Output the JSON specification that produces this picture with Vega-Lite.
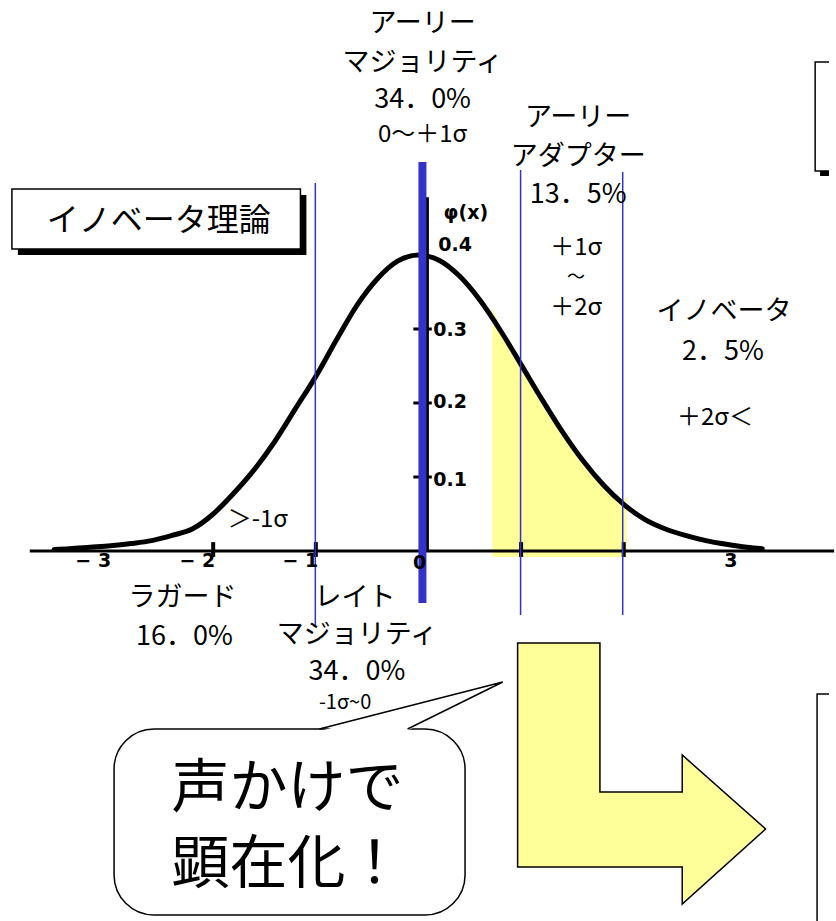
{
  "$schema": "https://vega.github.io/schema/vega-lite/v6.json",
  "width": 836,
  "height": 921,
  "autosize": {"type": "fit", "contains": "padding"},
  "padding": 0,
  "background": "white",
  "config": {"view": {"stroke": null}},
  "datasets": {
    "curve": [
      {"x": -3.55, "y": 0.002}, {"x": -3.4, "y": 0.003}, {"x": -3.2, "y": 0.005}, {"x": -3.0, "y": 0.007},
      {"x": -2.8, "y": 0.010}, {"x": -2.6, "y": 0.014}, {"x": -2.4, "y": 0.021}, {"x": -2.2, "y": 0.030},
      {"x": -2.0, "y": 0.050}, {"x": -1.8, "y": 0.078}, {"x": -1.6, "y": 0.110}, {"x": -1.4, "y": 0.148},
      {"x": -1.2, "y": 0.192}, {"x": -1.0, "y": 0.236}, {"x": -0.8, "y": 0.285}, {"x": -0.6, "y": 0.332},
      {"x": -0.4, "y": 0.368}, {"x": -0.2, "y": 0.392}, {"x": 0.0, "y": 0.400}, {"x": 0.2, "y": 0.393},
      {"x": 0.4, "y": 0.3715}, {"x": 0.6, "y": 0.3387}, {"x": 0.8, "y": 0.2976}, {"x": 1.0, "y": 0.2519},
      {"x": 1.2, "y": 0.2056}, {"x": 1.4, "y": 0.1616}, {"x": 1.6, "y": 0.1225}, {"x": 1.8, "y": 0.0895},
      {"x": 2.0, "y": 0.063}, {"x": 2.2, "y": 0.043}, {"x": 2.4, "y": 0.030}, {"x": 2.6, "y": 0.021},
      {"x": 2.8, "y": 0.014}, {"x": 3.0, "y": 0.009}, {"x": 3.2, "y": 0.005}, {"x": 3.35, "y": 0.003}
    ],
    "band": [
      {"x": 0.72, "y": 0.33, "y0": -0.008}, {"x": 0.8, "y": 0.30, "y0": -0.008}, {"x": 1.0, "y": 0.254, "y0": -0.008},
      {"x": 1.2, "y": 0.208, "y0": -0.008}, {"x": 1.4, "y": 0.164, "y0": -0.008}, {"x": 1.6, "y": 0.125, "y0": -0.008},
      {"x": 1.8, "y": 0.092, "y0": -0.008}, {"x": 1.98, "y": 0.068, "y0": -0.008}, {"x": 2.03, "y": 0.073, "y0": -0.008}
    ],
    "guides": [
      {"x": -1.005, "y": 0.4973, "y2": -0.1},
      {"x": 0.995, "y": 0.5149, "y2": -0.0865},
      {"x": 1.99, "y": 0.5122, "y2": -0.0865}
    ],
    "median": [{"x": 0.0386, "y": 0.5257, "y2": -0.0703}],
    "xaxis": [{"x": -3.787, "x2": 4.05, "y": 0}],
    "yaxis": [{"x": 0.087, "y": 0.478, "y2": 0}],
    "yticks": [
      {"x": -0.05, "x2": 0.13, "y": 0.1},
      {"x": -0.05, "x2": 0.13, "y": 0.2},
      {"x": -0.05, "x2": 0.13, "y": 0.3}
    ],
    "xticks": [
      {"x": -2, "y": 0.012, "y2": -0.008},
      {"x": -1, "y": 0.012, "y2": -0.008},
      {"x": 1, "y": 0.012, "y2": -0.008},
      {"x": 2, "y": 0.012, "y2": -0.008}
    ],
    "xlabels": [
      {"x": -3.169, "y": -0.0135, "label": "− 3"},
      {"x": -2.155, "y": -0.0135, "label": "− 2"},
      {"x": -1.15, "y": -0.0135, "label": "− 1"},
      {"x": 0.01, "y": -0.0162, "label": "0"},
      {"x": 3.043, "y": -0.0135, "label": "3"}
    ],
    "ylabels": [
      {"x": 0.245, "y": 0.4568, "label": "φ(x)"},
      {"x": 0.193, "y": 0.4135, "label": "0.4"},
      {"x": 0.145, "y": 0.2986, "label": "0.3"},
      {"x": 0.145, "y": 0.2014, "label": "0.2"},
      {"x": 0.145, "y": 0.0959, "label": "0.1"}
    ],
    "shadows": [
      {"x": -3.903, "x2": -1.092, "y": 0.4811, "y2": 0.4},
      {"x": 3.913, "x2": 4.1, "y": 0.654, "y2": 0.5068}
    ],
    "boxes": [
      {"x": -3.961, "x2": -1.15, "y": 0.4892, "y2": 0.4081},
      {"x": 3.865, "x2": 4.1, "y": 0.6608, "y2": 0.5135},
      {"x": 3.884, "x2": 4.1, "y": -0.1932, "y2": -0.55}
    ],
    "bubble": [{"x": -2.966, "x2": 0.454, "y": -0.2405, "y2": -0.4919}],
    "tailfill": [
      {"i": 0, "x": -0.957, "y": -0.2432},
      {"i": 1, "x": 0.821, "y": -0.177},
      {"i": 2, "x": -0.116, "y": -0.2432}
    ],
    "tail": [
      {"i": 0, "x": -0.966, "y": -0.2405},
      {"i": 1, "x": 0.821, "y": -0.177},
      {"i": 2, "x": -0.106, "y": -0.2405}
    ],
    "arrow": [
      {"i": 0, "x": 0.966, "y": -0.1243},
      {"i": 1, "x": 1.768, "y": -0.1243},
      {"i": 2, "x": 1.768, "y": -0.3257},
      {"i": 3, "x": 2.57, "y": -0.3257},
      {"i": 4, "x": 2.57, "y": -0.2757},
      {"i": 5, "x": 3.382, "y": -0.3757},
      {"i": 6, "x": 2.57, "y": -0.477},
      {"i": 7, "x": 2.57, "y": -0.427},
      {"i": 8, "x": 0.966, "y": -0.427}
    ],
    "labels": [
      {"x": 0.04, "y": 0.7122, "label": "アーリー", "role": "category"},
      {"x": 0.04, "y": 0.6595, "label": "マジョリティ", "role": "category"},
      {"x": 0.04, "y": 0.6095, "label": "34．0%", "role": "category"},
      {"x": 0.04, "y": 0.5622, "label": "0～＋1σ", "role": "sigma"},
      {"x": 1.556, "y": 0.5851, "label": "アーリー", "role": "category"},
      {"x": 1.556, "y": 0.5324, "label": "アダプター", "role": "category"},
      {"x": 1.556, "y": 0.4811, "label": "13．5%", "role": "category"},
      {"x": 1.536, "y": 0.4095, "label": "＋1σ", "role": "sigma"},
      {"x": 1.536, "y": 0.3689, "label": "～", "role": "tilde"},
      {"x": 1.536, "y": 0.3284, "label": "＋2σ", "role": "sigma"},
      {"x": 2.976, "y": 0.323, "label": "イノベータ", "role": "category"},
      {"x": 2.966, "y": 0.2689, "label": "2．5%", "role": "category"},
      {"x": 2.889, "y": 0.1797, "label": "＋2σ＜", "role": "sigma"},
      {"x": -1.565, "y": 0.0419, "label": "＞-1σ", "role": "sigma"},
      {"x": -2.3, "y": -0.0635, "label": "ラガード", "role": "category"},
      {"x": -2.28, "y": -0.1162, "label": "16．0%", "role": "category"},
      {"x": -0.618, "y": -0.0635, "label": "レイト", "role": "category"},
      {"x": -0.599, "y": -0.1135, "label": "マジョリティ", "role": "category"},
      {"x": -0.599, "y": -0.1635, "label": "34．0%", "role": "category"},
      {"x": -0.715, "y": -0.2055, "label": "-1σ~0", "role": "sigmaSmall"},
      {"x": -2.531, "y": 0.4459, "label": "イノベータ理論", "role": "title"},
      {"x": -1.275, "y": -0.323, "label": "声かけで", "role": "callout"},
      {"x": -1.275, "y": -0.4257, "label": "顕在化！", "role": "callout"}
    ]
  },
  "encoding": {
    "x": {"field": "x", "type": "quantitative", "scale": {"domain": [-4.0773, 4.0], "nice": false, "zero": false}, "axis": null},
    "y": {"field": "y", "type": "quantitative", "scale": {"domain": [-0.5, 0.74459], "nice": false, "zero": false}, "axis": null}
  },
  "layer": [
    {
      "data": {"name": "band"},
      "mark": {"type": "area", "color": "#FFFF99", "opacity": 1},
      "encoding": {"y2": {"field": "y0"}}
    },
    {
      "data": {"name": "xaxis"},
      "mark": {"type": "rule", "color": "black", "strokeWidth": 3},
      "encoding": {"x2": {"field": "x2"}}
    },
    {
      "data": {"name": "xticks"},
      "mark": {"type": "rule", "color": "black", "strokeWidth": 4},
      "encoding": {"y2": {"field": "y2"}}
    },
    {
      "data": {"name": "yticks"},
      "mark": {"type": "rule", "color": "black", "strokeWidth": 3},
      "encoding": {"x2": {"field": "x2"}}
    },
    {
      "data": {"name": "yaxis"},
      "mark": {"type": "rule", "color": "black", "strokeWidth": 3},
      "encoding": {"y2": {"field": "y2"}}
    },
    {
      "data": {"name": "curve"},
      "mark": {"type": "line", "color": "black", "strokeWidth": 5, "interpolate": "monotone", "strokeCap": "round"},
      "encoding": {}
    },
    {
      "data": {"name": "guides"},
      "mark": {"type": "rule", "color": "#3333CC", "strokeWidth": 1.5},
      "encoding": {"y2": {"field": "y2"}}
    },
    {
      "data": {"name": "median"},
      "mark": {"type": "rule", "color": "#3333CC", "strokeWidth": 8},
      "encoding": {"y2": {"field": "y2"}}
    },
    {
      "data": {"name": "xlabels"},
      "mark": {"type": "text", "font": "DejaVu Sans", "fontWeight": "bold", "fontSize": 19, "align": "center", "baseline": "middle", "color": "black"},
      "encoding": {"text": {"field": "label"}}
    },
    {
      "data": {"name": "ylabels"},
      "mark": {"type": "text", "font": "DejaVu Sans", "fontWeight": "bold", "fontSize": 19, "align": "left", "baseline": "middle", "color": "black"},
      "encoding": {"text": {"field": "label"}}
    },
    {
      "data": {"name": "shadows"},
      "mark": {"type": "rect", "color": "black", "clip": true},
      "encoding": {"x2": {"field": "x2"}, "y2": {"field": "y2"}}
    },
    {
      "data": {"name": "boxes"},
      "mark": {"type": "rect", "fill": "white", "stroke": "black", "strokeWidth": 1.5, "clip": true},
      "encoding": {"x2": {"field": "x2"}, "y2": {"field": "y2"}}
    },
    {
      "data": {"name": "bubble"},
      "mark": {"type": "rect", "fill": "white", "stroke": "black", "strokeWidth": 1.5, "cornerRadius": 40},
      "encoding": {"x2": {"field": "x2"}, "y2": {"field": "y2"}}
    },
    {
      "data": {"name": "tailfill"},
      "mark": {"type": "line", "interpolate": "linear-closed", "fill": "white", "stroke": "white", "strokeWidth": 0},
      "encoding": {"order": {"field": "i", "type": "quantitative"}}
    },
    {
      "data": {"name": "tail"},
      "mark": {"type": "line", "color": "black", "strokeWidth": 1.5, "strokeJoin": "miter"},
      "encoding": {"order": {"field": "i", "type": "quantitative"}}
    },
    {
      "data": {"name": "arrow"},
      "mark": {"type": "line", "interpolate": "linear-closed", "fill": "#FFFF99", "stroke": "black", "strokeWidth": 1.5, "strokeJoin": "miter"},
      "encoding": {"order": {"field": "i", "type": "quantitative"}}
    },
    {
      "data": {"name": "labels"},
      "transform": [{"filter": "datum.role === 'category'"}],
      "mark": {"type": "text", "font": "Noto Sans CJK JP", "fontSize": 27, "align": "center", "baseline": "middle", "color": "black"},
      "encoding": {"text": {"field": "label"}}
    },
    {
      "data": {"name": "labels"},
      "transform": [{"filter": "datum.role === 'sigma'"}],
      "mark": {"type": "text", "font": "Noto Sans CJK JP", "fontSize": 24, "align": "center", "baseline": "middle", "color": "black"},
      "encoding": {"text": {"field": "label"}}
    },
    {
      "data": {"name": "labels"},
      "transform": [{"filter": "datum.role === 'tilde'"}],
      "mark": {"type": "text", "font": "Noto Sans CJK JP", "fontSize": 18, "align": "center", "baseline": "middle", "color": "black"},
      "encoding": {"text": {"field": "label"}}
    },
    {
      "data": {"name": "labels"},
      "transform": [{"filter": "datum.role === 'sigmaSmall'"}],
      "mark": {"type": "text", "font": "Noto Sans CJK JP", "fontSize": 20, "align": "center", "baseline": "middle", "color": "black"},
      "encoding": {"text": {"field": "label"}}
    },
    {
      "data": {"name": "labels"},
      "transform": [{"filter": "datum.role === 'title'"}],
      "mark": {"type": "text", "font": "Noto Sans CJK JP", "fontSize": 32, "align": "center", "baseline": "middle", "color": "black"},
      "encoding": {"text": {"field": "label"}}
    },
    {
      "data": {"name": "labels"},
      "transform": [{"filter": "datum.role === 'callout'"}],
      "mark": {"type": "text", "font": "Noto Sans CJK JP", "fontSize": 58, "align": "center", "baseline": "middle", "color": "black"},
      "encoding": {"text": {"field": "label"}}
    }
  ]
}
